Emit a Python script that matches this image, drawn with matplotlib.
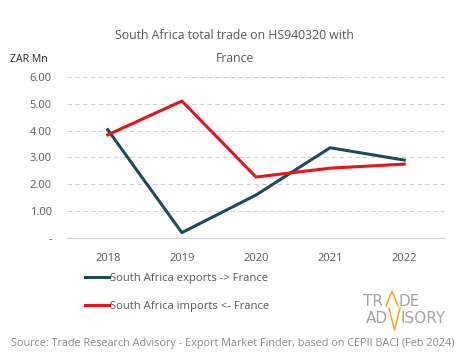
import matplotlib.pyplot as plt
from matplotlib.lines import Line2D

years = ["2018", "2019", "2020", "2021", "2022"]
exports = [4.03, 0.20, 1.60, 3.36, 2.90]
imports = [3.84, 5.10, 2.27, 2.60, 2.75]
yticks = [0, 1, 2, 3, 4, 5, 6]
ytick_labels = ["-", "1.00", "2.00", "3.00", "4.00", "5.00", "6.00"]

plt.rcParams['font.family'] = ['Open Sans', 'DejaVu Sans']
grey = "#595959"

fig = plt.figure(figsize=(4.65, 3.59), dpi=100)
ax = fig.add_axes([0.144, 0.337, 0.813, 0.449])

x = range(len(years))
ax.plot(x, exports, color="#1d4b5b", lw=2.2, label="South Africa exports -> France")
ax.plot(x, imports, color="#e8141a", lw=2.2, label="South Africa imports <- France")

ax.set_xlim(-0.55, 4.55)
ax.set_ylim(0, 6)
ax.set_xticks(list(x))
ax.set_xticklabels(years)
ax.set_yticks(yticks)
ax.set_yticklabels(ytick_labels)
ax.tick_params(length=0, labelsize=8, colors=grey, pad=11)
ax.tick_params(axis="y", pad=11)
ax.grid(axis="y", ls=(0, (4, 3)), color="#d0d0d0", lw=0.8)
for s in ["top", "right", "left"]:
    ax.spines[s].set_visible(False)
ax.spines["bottom"].set_color("#d0d0d0")
ax.set_axisbelow(True)

fig.text(0.505, 0.902, "South Africa total trade on HS940320 with", ha="center", va="center",
         fontsize=8.8, color=grey)
fig.text(0.505, 0.838, "France", ha="center", va="center", fontsize=8.8, color=grey)
fig.text(0.022, 0.833, "ZAR Mn", ha="left", va="center", fontsize=7.6, color="#222222")

handles, labels = ax.get_legend_handles_labels()
fig.legend(handles, labels, loc="upper left", bbox_to_anchor=(0.183, 0.24), frameon=False,
           fontsize=8.1, labelcolor=grey, handlelength=2.1, handletextpad=0.15,
           labelspacing=1.55, borderaxespad=0, borderpad=0)

fig.text(0.5, 0.042, "Source: Trade Research Advisory - Export Market Finder, based on CEPII BACI (Feb 2024)",
         ha="center", va="center", fontsize=7.85, color="#8a8a8a")

# logo (pixel positions converted to figure fraction)
lg = "#a3a3a3"
org = "#f5a623"
W, H = 465.0, 359.0
for txt, px, py in [("TR", 363, 306), ("DE", 398, 306), ("AD", 366, 323), ("ISORY", 400, 323)]:
    fig.text(px / W, 1 - py / H, txt, fontsize=11, color=lg, ha="left", va="baseline",
             family="DejaVu Sans")
fig.add_artist(Line2D([386 / W, 392 / W, 398 / W], [1 - 306 / H, 1 - 291 / H, 1 - 306 / H],
                      transform=fig.transFigure, color=org, lw=1.1))
fig.add_artist(Line2D([389 / W, 394.5 / W, 400 / W], [1 - 308 / H, 1 - 330 / H, 1 - 308 / H],
                      transform=fig.transFigure, color=org, lw=1.1))

fig.savefig("out.png", dpi=100)
